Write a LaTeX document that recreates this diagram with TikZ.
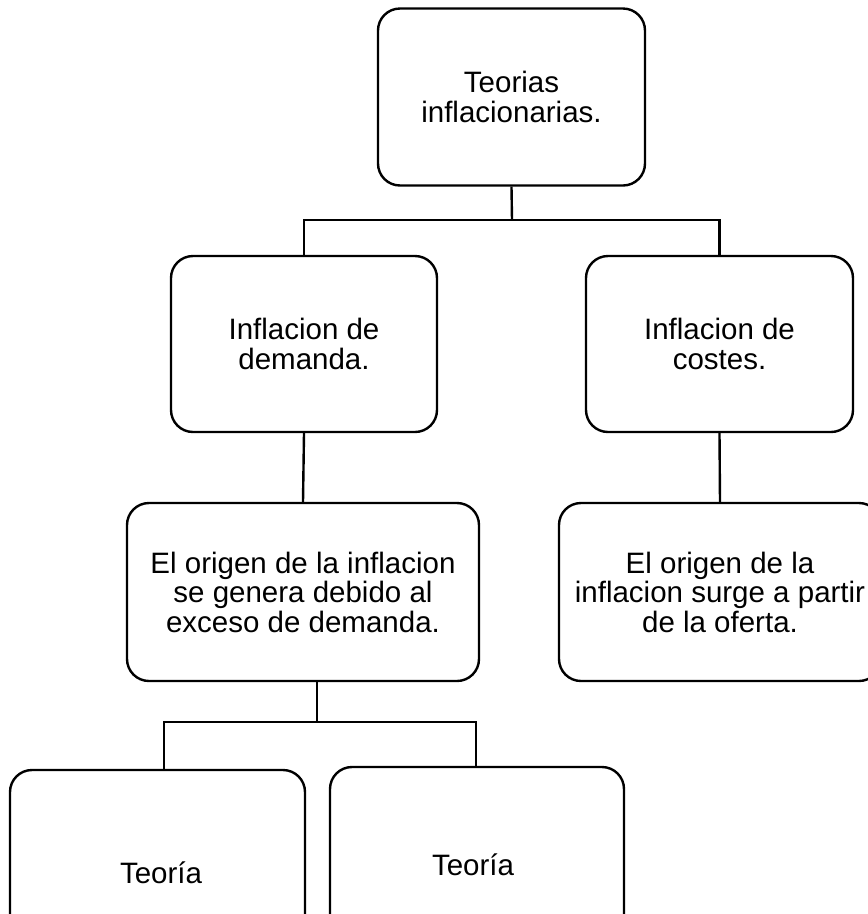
\documentclass[tikz,border=0pt]{standalone}
\usepackage{fontspec}
\setmainfont{Liberation Sans}
\begin{document}
\begin{tikzpicture}[x=1pt,y=-1pt,
  box/.style={draw=black, line width=2.4pt, rounded corners=22pt, fill=white,
    align=center, inner sep=0pt, font=\fontsize{29.5}{29.5}\selectfont},
  link/.style={draw=black, line width=2.4pt},
  lbl/.style={inner sep=0pt, anchor=base, font=\fontsize{29.5}{29.5}\selectfont}]
\clip (0,0) rectangle (868,914);
\fill[white] (0,0) rectangle (868,914);

% boxes
\node[box, minimum width=267pt, minimum height=177pt] (A) at (511.5,97) {Teorias\\inflacionarias.};
\node[box, minimum width=266pt, minimum height=176pt] (B) at (304,344) {Inflacion de\\demanda.};
\node[box, minimum width=267pt, minimum height=176pt] (C) at (719.5,344) {Inflacion de\\costes.};
\node[box, minimum width=352pt, minimum height=178pt] (E) at (303,592) {El origen de la inflacion\\se genera debido al\\exceso de demanda.};
\node[box, minimum width=322pt, minimum height=178pt] (D) at (720,592) {El origen de la\\inflacion surge a partir\\de la oferta.};
\node[box, minimum width=295pt, minimum height=178pt] (F) at (157.5,859) {};
\node[box, minimum width=294pt, minimum height=178pt] (G) at (477,856) {};
\node[lbl] (Ft) at (161,883) {Teoría};
\node[lbl] (Gt) at (473,875) {Teoría};

% junction points of the branch lines
\coordinate (j1) at (512,220);
\coordinate (j2) at (317,722);
\coordinate (jl) at (164,722);
\coordinate (jr) at (476,722);

% connectors
\draw[link] (A.south) -- (j1);
\draw[link] (B.north) -- (B.north |- j1) -- (C.north |- j1) -- (C.north);
\draw[link] (B.south) -- (E.north);
\draw[link] (C.south) -- (D.north);
\draw[link] (j2 |- E.south) -- (j2);
\draw[link] (jl |- F.north) -- (jl) -- (jr) -- (jr |- G.north);
\end{tikzpicture}
\end{document}
